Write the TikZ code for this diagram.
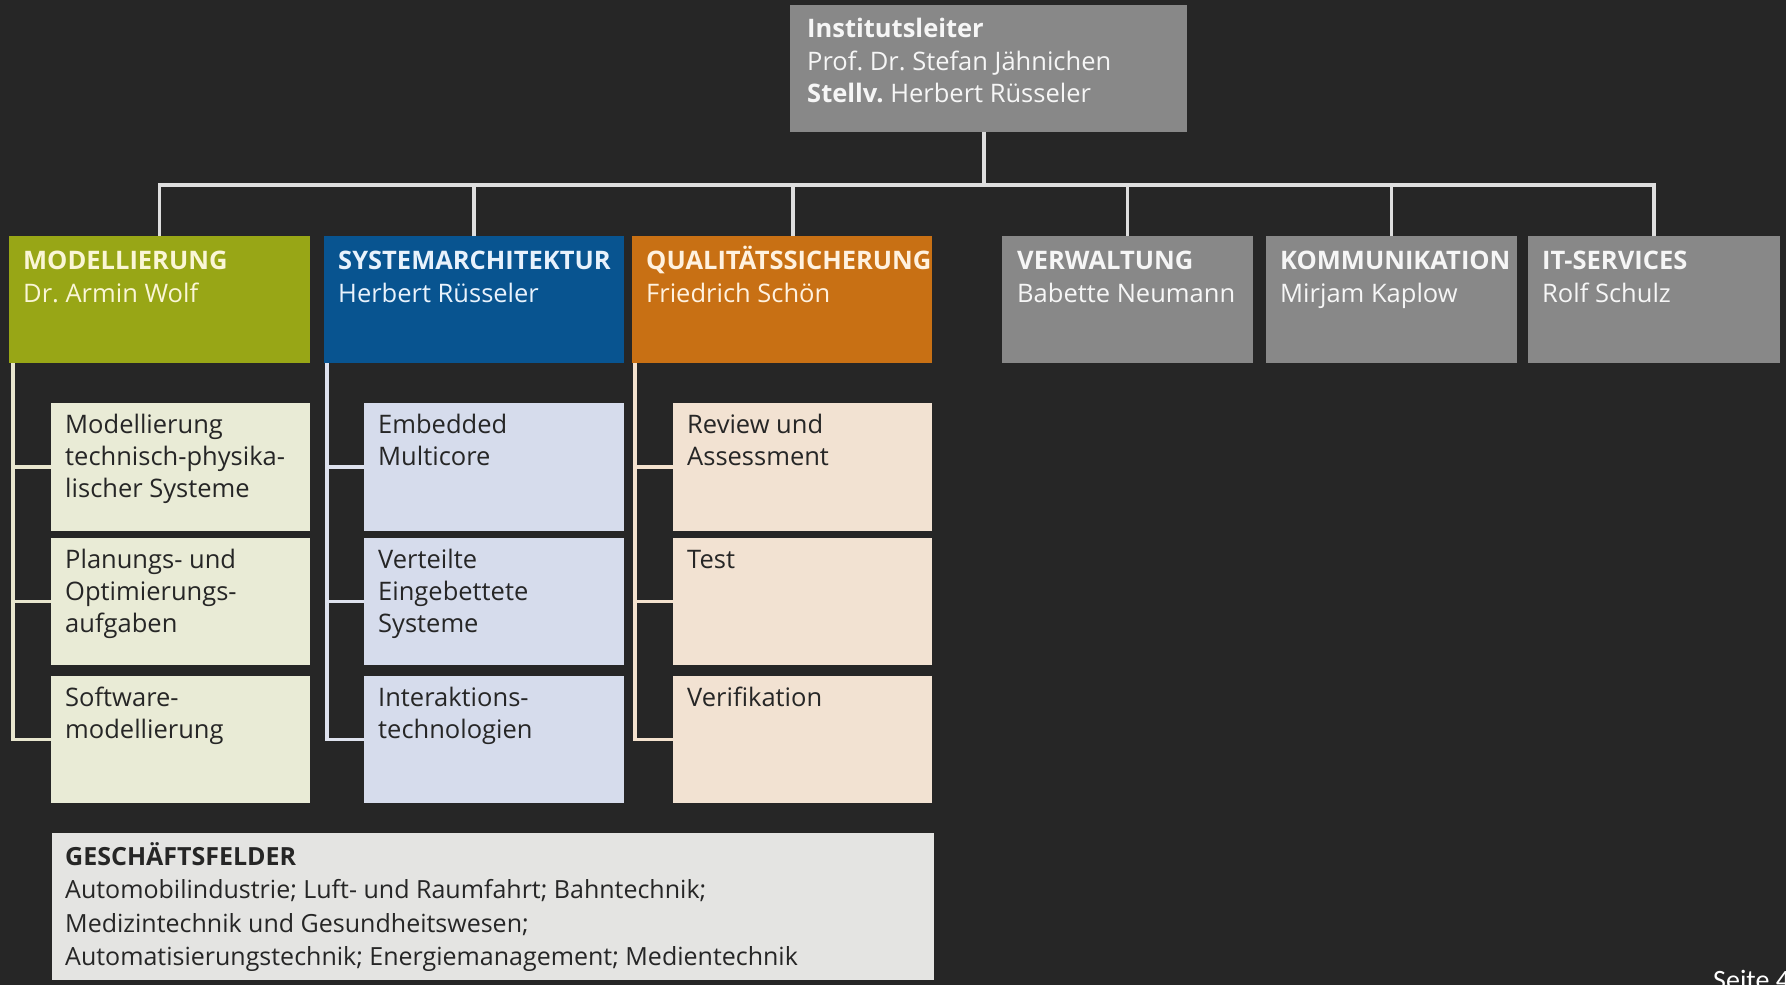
\documentclass[tikz,border=0pt]{standalone}
\usepackage{fontspec}
\setmainfont{Open Sans}
\newfontfamily\pagefont{Carlito}
\usetikzlibrary{fit}

\definecolor{bgdark}{RGB}{38,38,38}
\definecolor{boxgray}{RGB}{136,136,136}
\definecolor{modgreen}{RGB}{152,166,22}
\definecolor{sysblue}{RGB}{8,84,144}
\definecolor{qsorange}{RGB}{200,112,20}
\definecolor{modlight}{RGB}{233,235,214}
\definecolor{syslight}{RGB}{214,220,236}
\definecolor{qslight}{RGB}{242,226,210}
\definecolor{gflight}{RGB}{228,228,226}
\definecolor{darktext}{RGB}{38,38,38}
\definecolor{greentext}{RGB}{250,246,214}
\definecolor{bluetext}{RGB}{232,242,252}
\definecolor{orangetext}{RGB}{255,242,224}
\definecolor{graytext}{RGB}{246,246,246}
\definecolor{busline}{RGB}{222,222,222}
\definecolor{modline}{RGB}{232,230,206}
\definecolor{sysline}{RGB}{222,226,238}
\definecolor{qsline}{RGB}{244,226,206}

\tikzset{
  panel/.style={inner sep=0pt, outer sep=0pt, fill=#1},
  label text/.style={anchor=base west, inner sep=0pt, text=#1,
    font=\fontsize{25.5}{33}\selectfont\frenchspacing},
  sub text/.style={anchor=base west, inner sep=0pt, text=darktext,
    font=\fontsize{25.5}{32}\selectfont\frenchspacing},
  bus/.style={draw=busline, line width=3.5pt},
  branch/.style={draw=#1, line width=3.5pt},
}

% box: name, north-west corner, south-east corner, fill colour
\newcommand{\orgpanel}[4]{%
  \coordinate (#1-nw) at #2;
  \coordinate (#1-se) at #3;
  \node[panel=#4, fit=(#1-nw)(#1-se)] (#1) {};
}

\begin{document}
\begin{tikzpicture}[x=1pt, y=-1pt]
  \useasboundingbox (0,0) rectangle (1786,985);
  \fill[bgdark] (0,0) rectangle (1786,985);

  % head of institute
  \orgpanel{head}{(790,5)}{(1187,132)}{boxgray}
  \node[label text=graytext] (head-t) at ([shift={(17,32)}]head.north west)
    {\parbox[t]{370pt}{\raggedright\textbf{Institutsleiter}\\
      Prof. Dr. Stefan Jähnichen\\\textbf{Stellv.} Herbert Rüsseler}};

  % departments
  \orgpanel{mod}{(9,236)}{(310,363)}{modgreen}
  \orgpanel{sys}{(324,236)}{(624,363)}{sysblue}
  \orgpanel{qs}{(632,236)}{(932,363)}{qsorange}
  \orgpanel{vw}{(1002,236)}{(1253,363)}{boxgray}
  \orgpanel{kom}{(1266,236)}{(1517,363)}{boxgray}
  \orgpanel{its}{(1528,236)}{(1780,363)}{boxgray}

  \node[label text=greentext] (mod-t) at ([shift={(14,33)}]mod.north west)
    {\parbox[t]{290pt}{\raggedright\textbf{MODELLIERUNG}\\Dr. Armin Wolf}};
  \node[label text=bluetext] (sys-t) at ([shift={(14,33)}]sys.north west)
    {\parbox[t]{290pt}{\raggedright\textbf{SYSTEMARCHITEKTUR}\\Herbert Rüsseler}};
  \node[label text=orangetext] (qs-t) at ([shift={(14,33)}]qs.north west)
    {\parbox[t]{290pt}{\raggedright\textbf{QUALITÄTSSICHERUNG}\\Friedrich Schön}};
  \node[label text=graytext] (vw-t) at ([shift={(15,33)}]vw.north west)
    {\parbox[t]{240pt}{\raggedright\textbf{VERWALTUNG}\\Babette Neumann}};
  \node[label text=graytext] (kom-t) at ([shift={(14,33)}]kom.north west)
    {\parbox[t]{240pt}{\raggedright\textbf{KOMMUNIKATION}\\Mirjam Kaplow}};
  \node[label text=graytext] (its-t) at ([shift={(14,33)}]its.north west)
    {\parbox[t]{240pt}{\raggedright\textbf{IT-SERVICES}\\Rolf Schulz}};

  % groups
  \orgpanel{mod1}{(51,403)}{(310,531)}{modlight}
  \orgpanel{mod2}{(51,538)}{(310,665)}{modlight}
  \orgpanel{mod3}{(51,676)}{(310,803)}{modlight}
  \orgpanel{sys1}{(364,403)}{(624,531)}{syslight}
  \orgpanel{sys2}{(364,538)}{(624,665)}{syslight}
  \orgpanel{sys3}{(364,676)}{(624,803)}{syslight}
  \orgpanel{qs1}{(673,403)}{(932,531)}{qslight}
  \orgpanel{qs2}{(673,538)}{(932,665)}{qslight}
  \orgpanel{qs3}{(673,676)}{(932,803)}{qslight}

  \node[sub text] (mod1-t) at ([shift={(14,30)}]mod1.north west)
    {\parbox[t]{240pt}{\raggedright Modellierung\\technisch-physika-\\lischer Systeme}};
  \node[sub text] (mod2-t) at ([shift={(14,30)}]mod2.north west)
    {\parbox[t]{240pt}{\raggedright Planungs- und\\Optimierungs-\\aufgaben}};
  \node[sub text] (mod3-t) at ([shift={(14,30)}]mod3.north west)
    {\parbox[t]{240pt}{\raggedright Software-\\modellierung}};
  \node[sub text] (sys1-t) at ([shift={(14,30)}]sys1.north west)
    {\parbox[t]{240pt}{\raggedright Embedded\\Multicore}};
  \node[sub text] (sys2-t) at ([shift={(14,30)}]sys2.north west)
    {\parbox[t]{240pt}{\raggedright Verteilte\\Eingebettete\\Systeme}};
  \node[sub text] (sys3-t) at ([shift={(14,30)}]sys3.north west)
    {\parbox[t]{240pt}{\raggedright Interaktions-\\technologien}};
  \node[sub text] (qs1-t) at ([shift={(14,30)}]qs1.north west)
    {\parbox[t]{240pt}{\raggedright Review und\\Assessment}};
  \node[sub text] (qs2-t) at ([shift={(14,30)}]qs2.north west)
    {\parbox[t]{240pt}{\raggedright Test}};
  \node[sub text] (qs3-t) at ([shift={(14,30)}]qs3.north west)
    {\parbox[t]{240pt}{\raggedright Verifikation}};

  % business fields
  \orgpanel{gf}{(52,833)}{(934,980)}{gflight}
  \node[anchor=base west, inner sep=0pt, text=darktext,
        font=\fontsize{25}{33.5}\selectfont\frenchspacing] (gf-t)
        at ([shift={(13,32)}]gf.north west)
    {\parbox[t]{860pt}{\raggedright\textbf{GESCHÄFTSFELDER}\\
      Automobilindustrie; Luft- und Raumfahrt; Bahntechnik;\\
      Medizintechnik und Gesundheitswesen;\\
      Automatisierungstechnik; Energiemanagement; Medientechnik}};

  % connectors from the head to the departments
  \draw[bus] ([xshift=-4.5pt]head.south) -- ++(0,53) coordinate (bus-c) -| (mod.north);
  \draw[bus] (bus-c) -| (sys.north);
  \draw[bus] (bus-c) -| ([xshift=11pt]qs.north);
  \draw[bus] (bus-c) -| (vw.north);
  \draw[bus] (bus-c) -| (kom.north);
  \draw[bus] (bus-c) -| (its.north);

  % connectors from the departments to their groups
  \foreach \g in {mod1,mod2,mod3}
    \draw[branch=modline] ([xshift=4pt]mod.south west) |- (\g.west);
  \foreach \g in {sys1,sys2,sys3}
    \draw[branch=sysline] ([xshift=3pt]sys.south west) |- (\g.west);
  \foreach \g in {qs1,qs2,qs3}
    \draw[branch=qsline] ([xshift=3pt]qs.south west) |- (\g.west);

  % page number
  \node[anchor=base west, inner sep=0pt, text=white,
        font=\pagefont\fontsize{28}{30}\selectfont] (page) at (1713,989) {Seite 4};
\end{tikzpicture}
\end{document}
